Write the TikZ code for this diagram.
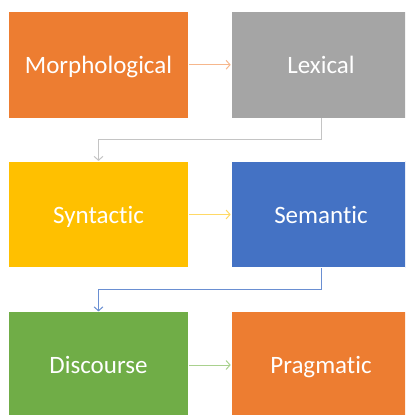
\documentclass[tikz,border=0pt]{standalone}
\usepackage{fontspec}
\setmainfont{Carlito}[Ligatures={NoCommon,NoContextual}]
\usetikzlibrary{arrows.meta}
\definecolor{cOrange}{HTML}{ED7D31}
\definecolor{cGray}{HTML}{A5A5A5}
\definecolor{cGold}{HTML}{FFC000}
\definecolor{cBlue}{HTML}{4472C4}
\definecolor{cGreen}{HTML}{70AD47}
\definecolor{aOrange}{HTML}{F6B78C}
\definecolor{aGray}{HTML}{C4C4C4}
\definecolor{aGold}{HTML}{FFD966}
\definecolor{aBlue}{HTML}{6A8FD2}
\definecolor{aGreen}{HTML}{A9D18E}
\tikzset{
  stagebox/.style={draw=white, line width=0.6pt, minimum width=180pt, minimum height=106.5pt,
    inner sep=0pt, text=white, font=\fontsize{25}{29}\selectfont, text height=17pt, text depth=0pt},
  flow/.style={line width=1pt, -{Straight Barb[length=4pt,width=9pt,line width=1pt]}}
}
\begin{document}
\begin{tikzpicture}[x=1pt,y=-1pt]
\useasboundingbox (0,0) rectangle (405,415);
\begin{scope}
\clip (0,0) rectangle (405,415);
\node[stagebox, fill=cOrange] (mor) at (98.5,64.75) {Morphological};
\node[stagebox, fill=cGray] (lex) at (321,64.75) {Lexical};
\node[stagebox, fill=cGold] (syn) at (98.5,214.5) {Syntactic};
\node[stagebox, fill=cBlue] (sem) at (321,214.5) {Semantic};
\node[stagebox, fill=cGreen] (dis) at (98.5,365) {Discourse};
\node[stagebox, fill=cOrange] (pra) at (321,365) {Pragmatic};
\end{scope}
\draw[flow, aOrange] (mor.east) -- (lex.west);
\draw[flow, aGray] (lex.south) -- ++(0,21.5) -| (syn.north);
\draw[flow, aGold] (syn.east) -- (sem.west);
\draw[flow, aBlue] (sem.south) -- ++(0,21.5) -| (dis.north);
\draw[flow, aGreen] (dis.east) -- (pra.west);
\end{tikzpicture}
\end{document}
